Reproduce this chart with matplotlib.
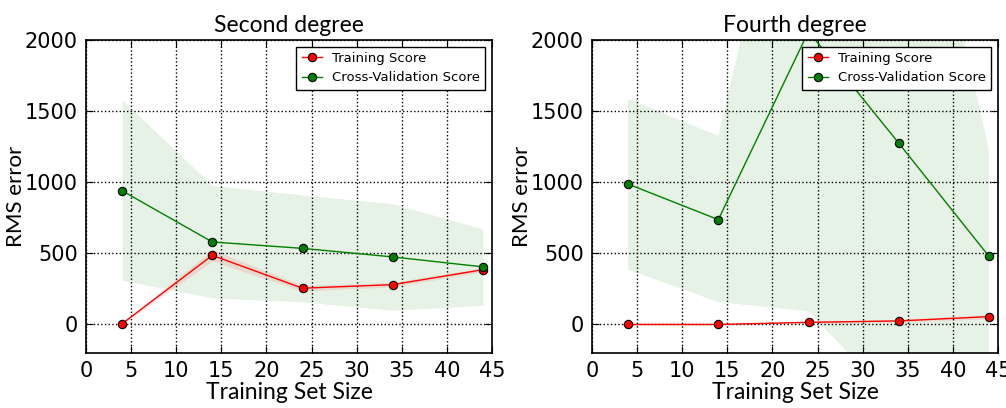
import numpy as np
import matplotlib.pyplot as plt

# Learning curves for two polynomial fits
train_size = [4, 14, 24, 34, 44]

# Second degree
train2 = [5, 486, 255, 280, 385]
train2_err = [6, 40, 20, 15, 15]
cv2 = [940, 580, 535, 475, 405]
cv2_lower = [311, 187, 159, 100, 135]
cv2_upper = [1580, 977, 910, 849, 671]

# Fourth degree
train4 = [0, 0, 15, 25, 55]
train4_err = [3, 4, 8, 10, 15]
cv4 = [987, 737, 2060, 1275, 479]
cv4_lower = [386, 157, 93, -573, -270]
cv4_upper = [1586, 1326, 4030, 4000, 1228]

panels = [
    ('Second degree', train2, train2_err, cv2, cv2_lower, cv2_upper),
    ('Fourth degree', train4, train4_err, cv4, cv4_lower, cv4_upper),
]

label_font = 'Lato'
tick_font = 'Liberation Sans Narrow'

fig = plt.figure(figsize=(10.06, 4.08), dpi=100)
lefts = [0.0855, 0.5885]

for left, (title, tr, tr_err, cv, lo, hi) in zip(lefts, panels):
    ax = fig.add_axes([left, 0.135, 0.4035, 0.767])
    x = np.array(train_size)
    tr = np.array(tr)
    tr_err = np.array(tr_err)

    ax.fill_between(x, lo, hi, color='green', alpha=0.1, lw=0)
    ax.fill_between(x, tr - tr_err, tr + tr_err, color='red', alpha=0.1, lw=0)
    ax.plot(x, tr, 'o-', color='red', mec='black', mew=0.8, ms=6, lw=1,
            label='Training Score')
    ax.plot(x, cv, 'o-', color='green', mec='black', mew=0.8, ms=6, lw=1,
            label='Cross-Validation Score')

    ax.set_xlim(0, 45)
    ax.set_ylim(-200, 2000)
    ax.set_xticks(range(0, 46, 5))
    ax.set_yticks([0, 500, 1000, 1500, 2000])
    ax.grid(True, color='black', linestyle=':', lw=1)
    ax.tick_params(direction='in', top=True, right=True, length=5,
                   labelsize=15, pad=6)
    for lab in ax.get_xticklabels() + ax.get_yticklabels():
        lab.set_family([tick_font, 'DejaVu Sans'])
    for sp in ax.spines.values():
        sp.set_linewidth(1.2)

    ax.set_title(title, fontsize=16.5, family=label_font, pad=6)
    ax.set_xlabel('Training Set Size', fontsize=16.5, family=label_font)
    ax.set_ylabel('RMS error', fontsize=16, family=label_font)
    ax.xaxis.set_label_coords(0.5, -0.128)
    ax.yaxis.set_label_coords(-0.172, 0.5)
    ax.xaxis.label.set_va('center')
    ax.yaxis.label.set_va('center')

    leg = ax.legend(loc='upper right', fontsize=9.5, fancybox=False,
                    framealpha=1, edgecolor='black', borderaxespad=0.5,
                    handlelength=1.5)
    leg.get_frame().set_linewidth(1)

fig.savefig('out.png', dpi=100)
